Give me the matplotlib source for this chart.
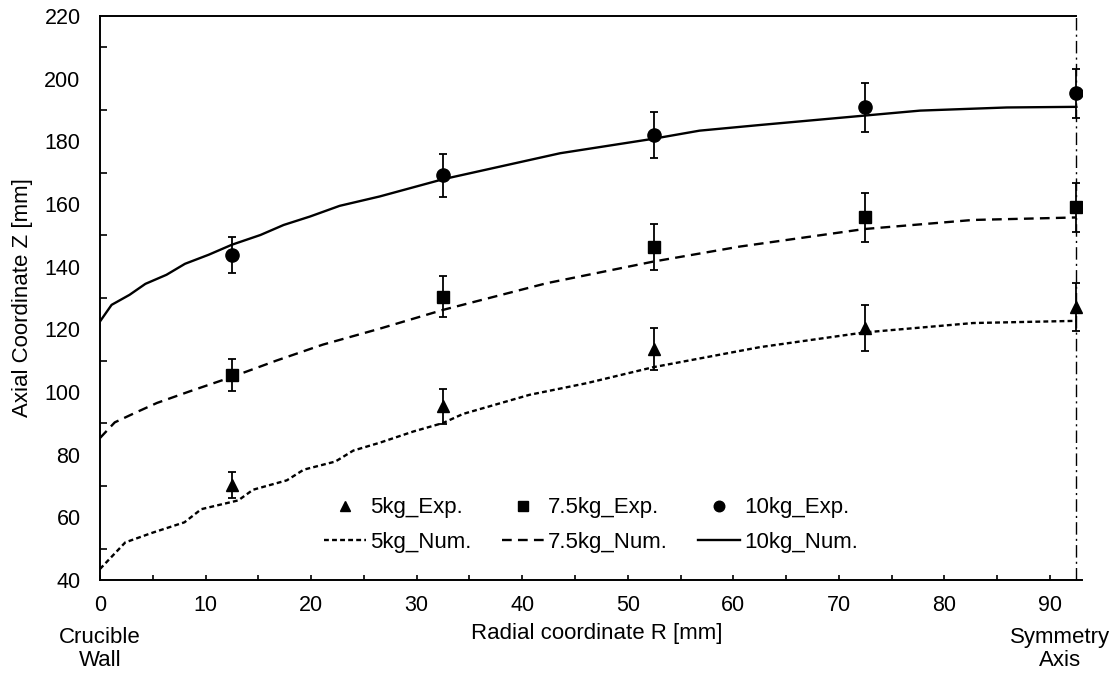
import matplotlib
matplotlib.use("Agg")
import matplotlib.pyplot as plt

plt.rcParams['font.family'] = ['Liberation Sans', 'DejaVu Sans']
plt.rcParams['lines.scale_dashes'] = False

# experimental points (radial position, axial height, error)
r_exp = [12.5, 32.5, 52.5, 72.5, 92.5]
z_exp_5 = [70.4, 95.4, 113.6, 120.4, 127.2]
err_5 = [4.1, 5.5, 6.7, 7.2, 7.6]
z_exp_75 = [105.4, 130.4, 146.2, 155.8, 158.9]
err_75 = [5.2, 6.5, 7.3, 7.8, 7.9]
z_exp_10 = [143.8, 169.1, 182.0, 190.8, 195.3]
err_10 = [5.8, 6.8, 7.3, 7.7, 7.8]

# numerical free surface profiles
r_num_5 = [0, 2.4, 4.9, 8.0, 9.6, 13.1, 14.5, 17.7, 19.3, 22.3, 24.0, 26.5,
           29.7, 32.5, 34.4, 40.7, 46.1, 52.4, 62.5, 72.4, 82.7, 92.5]
z_num_5 = [43.5, 52.0, 55.0, 58.4, 62.6, 65.4, 68.8, 71.8, 75.2, 77.8, 81.3, 83.8,
           87.4, 90.1, 93.0, 99.1, 102.8, 107.9, 114.3, 119.0, 122.0, 122.7]
r_num_75 = [0, 1.4, 3.3, 5.4, 8.5, 12.5, 16.7, 21.1, 26.5, 32.5, 42.3, 52.4,
            60.6, 72.4, 82.7, 92.5]
z_num_75 = [85.3, 90.3, 93.3, 96.5, 100.2, 104.8, 110.0, 115.1, 120.2, 126.2, 134.7, 141.6,
            146.4, 152.0, 154.9, 155.7]
r_num_10 = [0, 1.1, 2.8, 4.3, 6.3, 8.05, 10.3, 12.5, 15.2, 17.4, 19.9, 22.7,
            26.5, 32.5, 43.6, 52.4, 56.8, 62.5, 72.4, 77.7, 85.9, 92.5]
z_num_10 = [122.5, 127.8, 131.0, 134.5, 137.4, 140.9, 143.8, 147.0, 150.1, 153.3, 156.0, 159.4,
            162.4, 167.9, 176.2, 180.8, 183.4, 185.2, 188.2, 189.8, 190.8, 191.0]

axis_r = 92.5

fig = plt.figure(figsize=(11.17, 6.74), dpi=100)
ax = fig.add_axes([0.0895, 0.1395, 0.8789, 0.8368])

eb = dict(fmt='none', ecolor='black', elinewidth=1.3, capsize=2.6, capthick=1.3, zorder=3)
ax.errorbar(r_exp, z_exp_5, yerr=err_5, **eb)
ax.errorbar(r_exp, z_exp_75, yerr=err_75, **eb)
ax.errorbar(r_exp, z_exp_10, yerr=err_10, **eb)

h1, = ax.plot(r_exp, z_exp_5, '^', color='black', ms=8.6, ls='none', zorder=4, label='5kg_Exp.')
h2, = ax.plot(r_num_5, z_num_5, color='black', lw=1.7, dashes=(3.5, 2.3), label='5kg_Num.')
h3, = ax.plot(r_exp, z_exp_75, 's', color='black', ms=9.0, ls='none', zorder=4, label='7.5kg_Exp.')
h4, = ax.plot(r_num_75, z_num_75, color='black', lw=1.7, dashes=(7.0, 4.5), label='7.5kg_Num.')
h5, = ax.plot(r_exp, z_exp_10, 'o', color='black', ms=9.5, ls='none', zorder=4, label='10kg_Exp.')
h6, = ax.plot(r_num_10, z_num_10, color='black', lw=1.7, label='10kg_Num.')

# symmetry axis
ax.axvline(axis_r, color='black', lw=1.0, dashes=(9, 3, 1.5, 3))

ax.set_xlim(0, 93)
ax.set_ylim(40, 220)
ax.set_xticks(range(0, 91, 10))
ax.set_xticks(range(5, 91, 10), minor=True)
ax.set_yticks(range(40, 221, 20))
ax.set_yticks(range(50, 220, 20), minor=True)

ax.tick_params(axis='x', which='both', direction='in', length=3.5, width=1.2, labelsize=15.5, pad=11)
ax.tick_params(axis='y', which='major', length=0, labelsize=15.5, pad=14)
ax.tick_params(axis='y', which='minor', direction='in', length=5, width=1.2)

ax.spines['right'].set_visible(False)
ax.spines['top'].set_bounds(0, axis_r)
for s in ['left', 'bottom', 'top']:
    ax.spines[s].set_linewidth(1.4)

ax.set_ylabel('Axial Coordinate Z [mm]', fontsize=16, labelpad=8)

fig.text(597 / 1117, 1 - 634 / 674, 'Radial coordinate R [mm]', ha='center', va='center', fontsize=16)
fig.text(100 / 1117, 1 - 649 / 674, 'Crucible\nWall', ha='center', va='center', fontsize=16,
         linespacing=1.1)
fig.text(1060 / 1117, 1 - 649 / 674, 'Symmetry\nAxis', ha='center', va='center', fontsize=16,
         linespacing=1.1)

ax.legend(handles=[h1, h2, h3, h4, h5, h6], ncol=3, frameon=False, fontsize=16,
          loc='center', bbox_to_anchor=(591 / 1117, 1 - 525 / 674), bbox_transform=fig.transFigure,
          handlelength=1.9, handletextpad=0.18, columnspacing=1.35, labelspacing=0.6,
          markerscale=0.8)

fig.savefig('out.png', dpi=100)
